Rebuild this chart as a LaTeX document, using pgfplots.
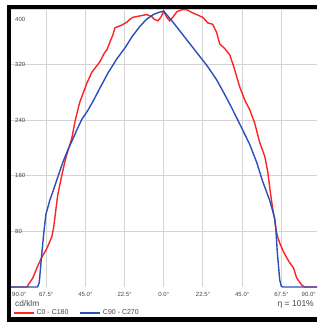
\documentclass[border=0pt]{standalone}
\usepackage{pgfplots}
\pgfplotsset{compat=1.18}
\usepackage{fontspec}
\setmainfont{Liberation Sans}
\definecolor{cred}{HTML}{FF2222}
\definecolor{cblue}{HTML}{2B4FB8}
\definecolor{cgrid}{HTML}{D4D4D4}
\definecolor{ctxt}{HTML}{444444}
\begin{document}
\begin{tikzpicture}
\path[use as bounding box] (-7pt,-35pt) rectangle (310pt,287pt);
\begin{axis}[
  scale only axis, width=310pt, height=278pt,
  xmin=-90, xmax=88, ymin=0, ymax=400,
  axis line style={draw=none},
  xtick={-90,-67.5,-45,-22.5,0,22.5,45,67.5},
  ytick={80,160,240,320,400},
  xticklabels={}, yticklabels={},
  major tick length=0pt,
  grid=major,
  major grid style={cgrid, line width=0.9pt},
  clip=true,
  legend style={at={(axis description cs:0.019,-0.094)}, anchor=west, draw=none, fill=none,
     inner sep=0pt, font=\fontsize{7}{8}\selectfont\color{ctxt}},
  legend columns=2,
  /tikz/every even column/.append style={column sep=9pt},
  legend image code/.code={\draw[#1, line width=1.5pt] (0pt,0pt) -- (20pt,0pt);},
]
\addplot[cred, line width=1.4pt] coordinates {
(-90,0) (-78.6,0) (-75.2,13) (-72.9,27) (-70,43) (-67.2,55) (-64.3,72) (-63.2,86)
(-60.9,132) (-58.6,160) (-56.8,180) (-55.5,192) (-52.8,214) (-50.8,240) (-48.2,266)
(-44.2,293) (-41.3,309) (-36.7,324) (-34,337) (-32.7,341) (-30.5,355) (-29.3,362)
(-28,373) (-26,375) (-24,377) (-21.2,381) (-19.5,385) (-17.8,388) (-13.8,390)
(-9.8,392) (-6.9,389) (-5.2,385) (-3.4,383) (-1.7,388) (0,397) (1.7,388) (3.4,383)
(5.2,388) (7.5,396) (10.3,399) (13.2,399) (16.1,395) (18.9,392) (22.4,388)
(25.3,380) (28.1,378) (30.4,366) (32.1,350) (35,343) (37.9,334) (40.2,317)
(43.6,288) (46.5,269) (49.4,255) (52.2,236) (55.1,208) (58,188) (59.7,166)
(61,140) (62.6,112) (63.7,97) (64.5,82) (65.5,71) (66.8,62) (68.9,50) (71.8,37)
(74.6,27) (76.3,13) (79.2,3) (80.9,0) (90,0)};
\addlegendentry{C0 - C180}
\addplot[cblue, line width=1.4pt] coordinates {
(-90,0) (-72.5,0) (-71.5,6) (-70.3,40) (-69,75) (-67.7,104) (-65.4,125) (-63,142)
(-61.4,154) (-58,179) (-55.1,197) (-52,214) (-49.9,226) (-47.1,241) (-43.6,254)
(-40,270) (-36.7,286) (-32,308) (-27,328) (-22,345) (-18,361) (-14,374) (-10,385)
(-6,392) (-3,395) (0,397) (2.3,390) (5,382) (7.5,374) (10,366) (15,350) (20,334)
(25,318) (30.4,298) (35,277) (39,258) (45.3,226) (49.4,205) (53.4,179) (56.8,152)
(60.8,125) (63.7,99) (64.4,82) (65.2,50) (66.6,10) (67.5,1) (68.5,0) (90,0)};
\addlegendentry{C90 - C270}
\end{axis}
% tick labels
\begin{scope}[every node/.style={font=\fontsize{6}{7}\selectfont, text=ctxt, inner sep=0pt}]
\node[anchor=west] at (8pt,268pt) {400};
\node[anchor=west] at (8pt,222.4pt) {320};
\node[anchor=west] at (8pt,166.8pt) {240};
\node[anchor=west] at (8pt,111.2pt) {160};
\node[anchor=west] at (8pt,55.6pt) {80};
\node[anchor=west] at (5pt,-7pt) {90.0°};
\node at (39.2pt,-7pt) {67.5°};
\node at (78.4pt,-7pt) {45.0°};
\node at (117.6pt,-7pt) {22.5°};
\node at (156.8pt,-7pt) {0.0°};
\node at (196pt,-7pt) {22.5°};
\node at (235.2pt,-7pt) {45.0°};
\node at (274.4pt,-7pt) {67.5°};
\node[anchor=east] at (309pt,-7pt) {90.0°};
\end{scope}
\node[anchor=west, inner sep=0pt, font=\fontsize{8.3}{9}\selectfont, text=ctxt] at (8pt,-17pt) {cd/klm};
\node[anchor=east, inner sep=0pt, font=\fontsize{8.5}{9}\selectfont, text=ctxt] at (307pt,-17pt) {η = 101\%};
% frame
\fill[black] (0pt,-35pt) rectangle (4pt,282pt);
\fill[black] (0pt,278pt) rectangle (310pt,282pt);
\fill[black] (0pt,-30pt) rectangle (310pt,-35pt);
\end{tikzpicture}
\end{document}
